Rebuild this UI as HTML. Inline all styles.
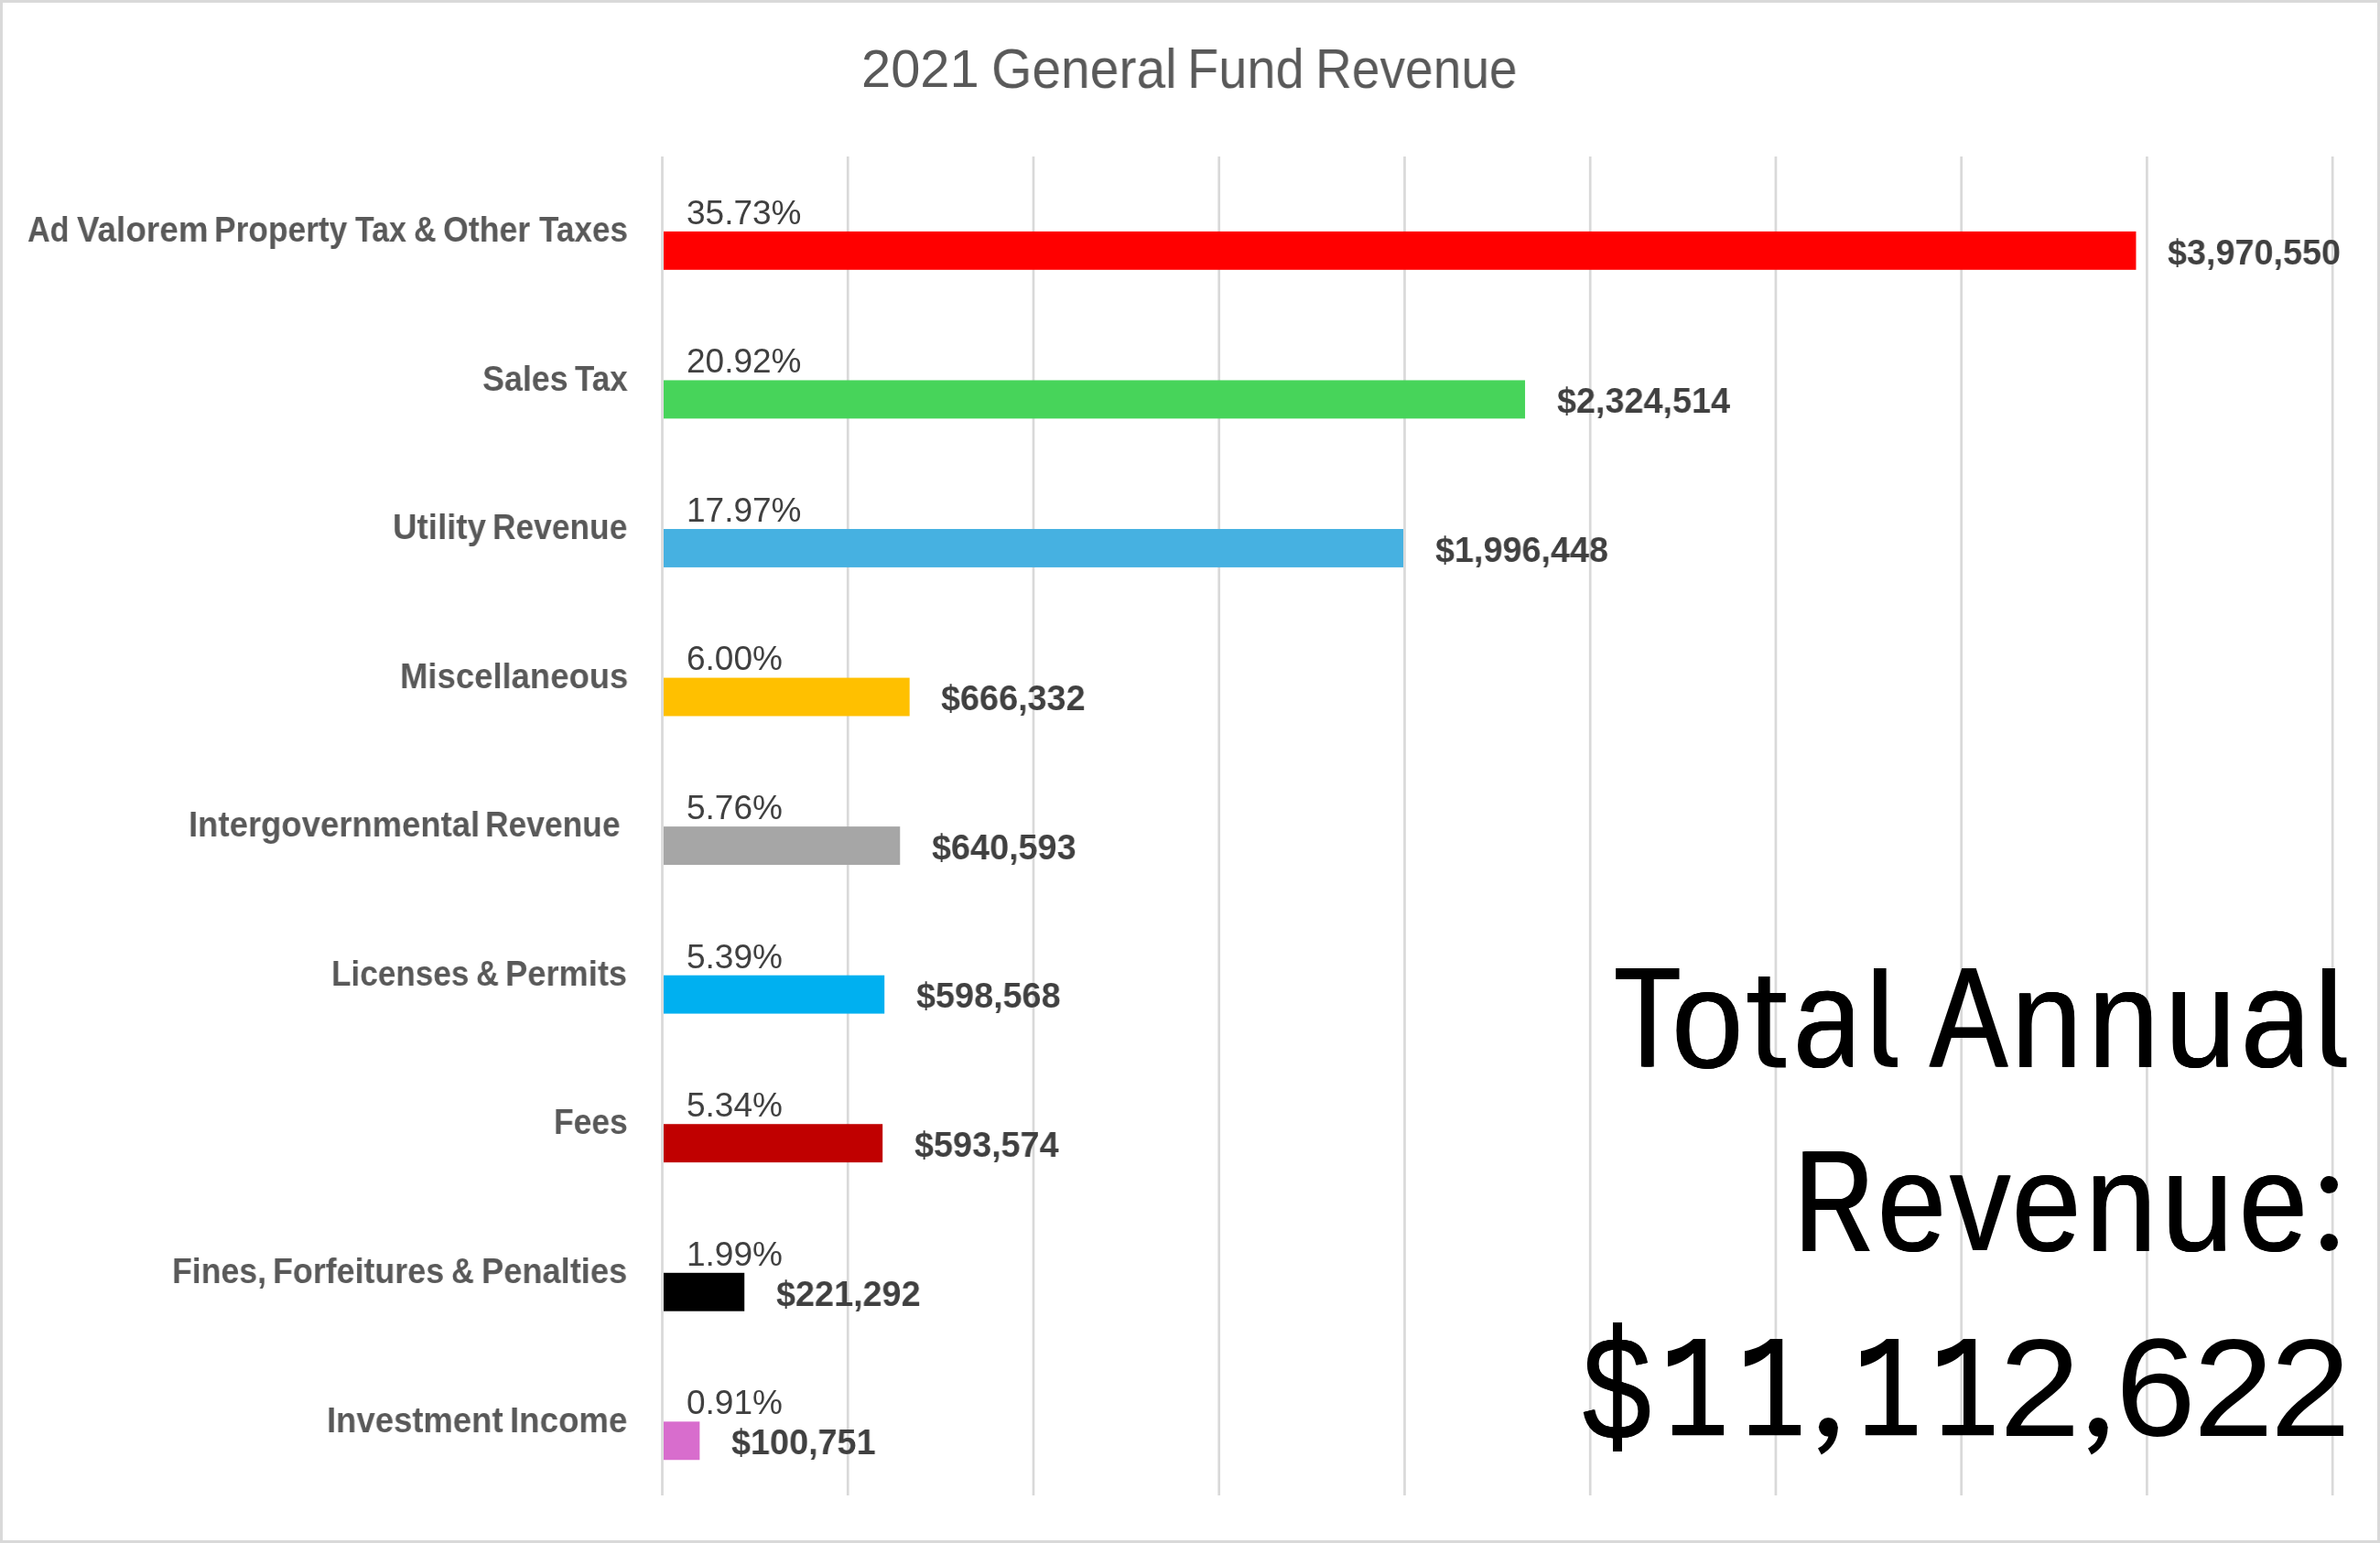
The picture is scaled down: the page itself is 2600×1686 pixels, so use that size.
<!DOCTYPE html>
<html lang="en">
<head>
<meta charset="utf-8">
<title>2021 General Fund Revenue</title>
<style>
html,body{margin:0;padding:0;background:#fff;}
body{width:2600px;height:1686px;position:relative;overflow:hidden;font-family:"Liberation Sans",sans-serif;}
#frame{position:absolute;left:0;top:0;width:2594px;height:1680px;border:3px solid #d9d9d9;}
#plot{position:absolute;left:0;top:0;}
.t{position:absolute;white-space:pre;line-height:1;margin:0;padding:0;will-change:transform;transform-origin:0 0;}
.cat{color:#595959;font-weight:bold;}
.pct{color:#404040;}
.dol{color:#404040;font-weight:bold;}
.title{color:#595959;}
.bigwrap{position:absolute;left:0;top:0;width:0;height:0;}
.gl{position:absolute;font-weight:normal;font-style:normal;font-size:156.7px;line-height:1;color:#000;white-space:pre;transform-origin:0 0;}
.dot{position:absolute;background:#000;border-radius:50%;}
.rc{position:absolute;background:#000;}
.clip{position:absolute;overflow:hidden;}
.gsvg{position:absolute;overflow:visible;}
</style>
</head>
<body>
<div id="frame"></div>
<svg id="plot" width="2600" height="1686" viewBox="0 0 2600 1686"><rect x="722.15" y="171" width="2.7" height="1463" fill="#d9d9d9"/><rect x="924.89" y="171" width="2.7" height="1463" fill="#d9d9d9"/><rect x="1127.63" y="171" width="2.7" height="1463" fill="#d9d9d9"/><rect x="1330.37" y="171" width="2.7" height="1463" fill="#d9d9d9"/><rect x="1533.11" y="171" width="2.7" height="1463" fill="#d9d9d9"/><rect x="1735.85" y="171" width="2.7" height="1463" fill="#d9d9d9"/><rect x="1938.59" y="171" width="2.7" height="1463" fill="#d9d9d9"/><rect x="2141.33" y="171" width="2.7" height="1463" fill="#d9d9d9"/><rect x="2344.07" y="171" width="2.7" height="1463" fill="#d9d9d9"/><rect x="2546.81" y="171" width="2.7" height="1463" fill="#d9d9d9"/><rect x="725.00" y="252.90" width="1608.48" height="41.9" fill="#FF0000"/><rect x="725.00" y="415.46" width="941.04" height="41.9" fill="#47D45A"/><rect x="725.00" y="578.01" width="808.02" height="41.9" fill="#46B1E1"/><rect x="725.00" y="740.57" width="268.68" height="41.9" fill="#FFC000"/><rect x="725.00" y="903.12" width="258.25" height="41.9" fill="#A6A6A6"/><rect x="725.00" y="1065.68" width="241.21" height="41.9" fill="#00B0F0"/><rect x="725.00" y="1228.23" width="239.18" height="41.9" fill="#C00000"/><rect x="725.00" y="1390.79" width="88.23" height="41.9" fill="#000000"/><rect x="725.00" y="1553.34" width="39.35" height="41.9" fill="#D86DCD"/></svg>
<div id="tw0" class="t title" style="left:940.80px;top:46.97px;font-size:57.8px;transform:scaleX(0.9997)">2021</div>
<div id="tw1" class="t title" style="left:1083.12px;top:44.60px;font-size:60.6px;transform:scaleX(0.9407)">General</div>
<div id="tw2" class="t title" style="left:1296.68px;top:44.60px;font-size:60.6px;transform:scaleX(0.9237)">Fund</div>
<div id="tw3" class="t title" style="left:1437.25px;top:44.60px;font-size:60.6px;transform:scaleX(0.9095)">Revenue</div>
<div id="c0w0" class="t cat" style="left:30.21px;top:232.06px;font-size:38.2px;transform:scaleX(0.8964)">Ad</div>
<div id="c0w1" class="t cat" style="left:83.68px;top:232.06px;font-size:38.2px;transform:scaleX(0.9655)">Valorem</div>
<div id="c0w2" class="t cat" style="left:233.86px;top:232.06px;font-size:38.2px;transform:scaleX(0.9255)">Property</div>
<div id="c0w3" class="t cat" style="left:388.15px;top:232.06px;font-size:38.2px;transform:scaleX(0.8874)">Tax</div>
<div id="c0w4" class="t cat" style="left:452.28px;top:232.06px;font-size:38.2px;transform:scaleX(0.8947)">&amp;</div>
<div id="c0w5" class="t cat" style="left:484.13px;top:232.06px;font-size:38.2px;transform:scaleX(0.9345)">Other</div>
<div id="c0w6" class="t cat" style="left:588.73px;top:232.06px;font-size:38.2px;transform:scaleX(0.9189)">Taxes</div>
<div id="pct0" class="t pct" style="left:749.90px;top:213.78px;font-size:37.0px;">35.73%</div>
<div id="dol0" class="t dol" style="left:2367.98px;top:255.72px;font-size:39.2px;transform:scaleX(0.964);">$3,970,550</div>
<div id="c1w0" class="t cat" style="left:527.00px;top:394.62px;font-size:38.2px;transform:scaleX(0.9385)">Sales</div>
<div id="c1w1" class="t cat" style="left:627.63px;top:394.62px;font-size:38.2px;transform:scaleX(0.9148)">Tax</div>
<div id="pct1" class="t pct" style="left:749.90px;top:376.33px;font-size:37.0px;">20.92%</div>
<div id="dol1" class="t dol" style="left:1700.54px;top:418.27px;font-size:39.2px;transform:scaleX(0.964);">$2,324,514</div>
<div id="c2w0" class="t cat" style="left:428.61px;top:557.17px;font-size:38.2px;transform:scaleX(0.9620)">Utility</div>
<div id="c2w1" class="t cat" style="left:538.16px;top:557.17px;font-size:38.2px;transform:scaleX(0.9255)">Revenue</div>
<div id="pct2" class="t pct" style="left:749.90px;top:538.89px;font-size:37.0px;">17.97%</div>
<div id="dol2" class="t dol" style="left:1567.52px;top:580.83px;font-size:39.2px;transform:scaleX(0.964);">$1,996,448</div>
<div id="c3w0" class="t cat" style="left:436.58px;top:719.73px;font-size:38.2px;transform:scaleX(0.9550)">Miscellaneous</div>
<div id="pct3" class="t pct" style="left:749.90px;top:701.44px;font-size:37.0px;">6.00%</div>
<div id="dol3" class="t dol" style="left:1028.18px;top:743.38px;font-size:39.2px;transform:scaleX(0.964);">$666,332</div>
<div id="c4w0" class="t cat" style="left:206.37px;top:882.28px;font-size:38.2px;transform:scaleX(0.9552)">Intergovernmental</div>
<div id="c4w1" class="t cat" style="left:530.06px;top:882.28px;font-size:38.2px;transform:scaleX(0.9268)">Revenue</div>
<div id="pct4" class="t pct" style="left:749.90px;top:864.00px;font-size:37.0px;">5.76%</div>
<div id="dol4" class="t dol" style="left:1017.75px;top:905.94px;font-size:39.2px;transform:scaleX(0.964);">$640,593</div>
<div id="c5w0" class="t cat" style="left:361.67px;top:1044.84px;font-size:38.2px;transform:scaleX(0.9199)">Licenses</div>
<div id="c5w1" class="t cat" style="left:520.46px;top:1044.84px;font-size:38.2px;transform:scaleX(0.9069)">&amp;</div>
<div id="c5w2" class="t cat" style="left:552.30px;top:1044.84px;font-size:38.2px;transform:scaleX(0.9502)">Permits</div>
<div id="pct5" class="t pct" style="left:749.90px;top:1026.55px;font-size:37.0px;">5.39%</div>
<div id="dol5" class="t dol" style="left:1000.71px;top:1068.49px;font-size:39.2px;transform:scaleX(0.964);">$598,568</div>
<div id="c6w0" class="t cat" style="left:604.65px;top:1207.39px;font-size:38.2px;transform:scaleX(0.9281)">Fees</div>
<div id="pct6" class="t pct" style="left:749.90px;top:1189.11px;font-size:37.0px;">5.34%</div>
<div id="dol6" class="t dol" style="left:998.68px;top:1231.05px;font-size:39.2px;transform:scaleX(0.964);">$593,574</div>
<div id="c7w0" class="t cat" style="left:188.14px;top:1369.95px;font-size:38.2px;transform:scaleX(0.9335)">Fines,</div>
<div id="c7w1" class="t cat" style="left:298.43px;top:1369.95px;font-size:38.2px;transform:scaleX(0.9383)">Forfeitures</div>
<div id="c7w2" class="t cat" style="left:493.07px;top:1369.95px;font-size:38.2px;transform:scaleX(0.9028)">&amp;</div>
<div id="c7w3" class="t cat" style="left:526.10px;top:1369.95px;font-size:38.2px;transform:scaleX(0.9492)">Penalties</div>
<div id="pct7" class="t pct" style="left:749.90px;top:1351.66px;font-size:37.0px;">1.99%</div>
<div id="dol7" class="t dol" style="left:847.73px;top:1393.60px;font-size:39.2px;transform:scaleX(0.964);">$221,292</div>
<div id="c8w0" class="t cat" style="left:356.57px;top:1532.50px;font-size:38.2px;transform:scaleX(0.9551)">Investment</div>
<div id="c8w1" class="t cat" style="left:557.26px;top:1532.50px;font-size:38.2px;transform:scaleX(0.9595)">Income</div>
<div id="pct8" class="t pct" style="left:749.90px;top:1514.22px;font-size:37.0px;">0.91%</div>
<div id="dol8" class="t dol" style="left:798.85px;top:1556.16px;font-size:39.2px;transform:scaleX(0.964);">$100,751</div>
<div id="big0" class="bigwrap" role="img" aria-label="Total Annual Revenue: $11,112,622">
<b id="g0" class="gl" style="left:1763.99px;top:1033.58px;transform:scale(0.7492,0.9995);text-shadow:2.07px 0 0 #000,-2.07px 0 0 #000;">T</b>
<b id="g1" class="gl" style="left:1825.75px;top:1037.55px;transform:scale(0.9012,0.9808);text-shadow:0.56px 0 0 #000,-0.56px 0 0 #000;">o</b>
<svg id="g2" class="gsvg" style="left:1909.2px;top:1066.5px" width="41.8" height="99.4" viewBox="0 0 41.8 99.4" preserveAspectRatio="none"><path d="M11.9 0H24.6V17.9H41.8V28.3H24.6V77.5C24.6 85.5 27.5 89 34.5 89H41.8V99.4H31.5C18.5 99.4 11.9 93.2 11.9 80V28.3H0V17.9H11.9Z" fill="#000"/></svg>
<div id="g3" class="clip" style="left:1960.60px;top:1077.10px;width:63.60px;height:95.90px"><b class="gl" style="left:-1.98px;top:-40.12px;transform:scale(0.8661,0.9784);text-shadow:0.86px 0 0 #000,-0.86px 0 0 #000;">a</b></div>
<svg id="g4" class="gsvg" style="left:2046.5px;top:1058.0px" width="25.9" height="107.9" viewBox="0 0 25.9 107.9" preserveAspectRatio="none"><path d="M0 0H13.6V84.5C13.6 93.5 16 97.6 22.6 97.6H25.9V107.9H19.8C5.6 107.9 0 101.2 0 86.5Z" fill="#000"/></svg>
<b id="g5" class="gl" style="left:2107.66px;top:1032.58px;transform:scale(0.8166,0.9995);text-shadow:1.33px 0 0 #000,-1.33px 0 0 #000;">A</b>
<b id="g6" class="gl" style="left:2197.21px;top:1037.09px;transform:scale(0.8929,0.9757);text-shadow:0.63px 0 0 #000,-0.63px 0 0 #000;">n</b>
<b id="g7" class="gl" style="left:2281.31px;top:1037.09px;transform:scale(0.8929,0.9757);text-shadow:0.63px 0 0 #000,-0.63px 0 0 #000;">n</b>
<b id="g8" class="gl" style="left:2365.49px;top:1037.01px;transform:scale(0.8929,0.9780);text-shadow:0.63px 0 0 #000,-0.63px 0 0 #000;">u</b>
<div id="g9" class="clip" style="left:2450.50px;top:1077.10px;width:64.40px;height:95.90px"><b class="gl" style="left:-2.56px;top:-40.12px;transform:scale(0.8807,0.9784);text-shadow:0.73px 0 0 #000,-0.73px 0 0 #000;">a</b></div>
<svg id="g10" class="gsvg" style="left:2536.7px;top:1058.0px" width="26.4" height="107.9" viewBox="0 0 25.9 107.9" preserveAspectRatio="none"><path d="M0 0H13.6V84.5C13.6 93.5 16 97.6 22.6 97.6H25.9V107.9H19.8C5.6 107.9 0 101.2 0 86.5Z" fill="#000"/></svg>
<b id="g11" class="gl" style="left:1960.98px;top:1235.48px;transform:scale(0.7584,1.0023);text-shadow:1.96px 0 0 #000,-1.96px 0 0 #000;">R</b>
<b id="g12" class="gl" style="left:2050.98px;top:1237.95px;transform:scale(0.8603,0.9808);text-shadow:0.91px 0 0 #000,-0.91px 0 0 #000;">e</b>
<b id="g13" class="gl" style="left:2129.97px;top:1236.42px;transform:scale(0.8472,0.9837);text-shadow:1.03px 0 0 #000,-1.03px 0 0 #000;">v</b>
<b id="g14" class="gl" style="left:2197.97px;top:1237.95px;transform:scale(0.8636,0.9808);text-shadow:0.88px 0 0 #000,-0.88px 0 0 #000;">e</b>
<b id="g15" class="gl" style="left:2277.77px;top:1237.77px;transform:scale(0.8986,0.9804);text-shadow:0.58px 0 0 #000,-0.58px 0 0 #000;">n</b>
<b id="g16" class="gl" style="left:2360.98px;top:1236.98px;transform:scale(0.9062,0.9828);text-shadow:0.52px 0 0 #000,-0.52px 0 0 #000;">u</b>
<b id="g17" class="gl" style="left:2445.94px;top:1237.95px;transform:scale(0.8586,0.9808);text-shadow:0.93px 0 0 #000,-0.93px 0 0 #000;">e</b>
<i id="g18" class="dot" style="left:2534.8px;top:1284.8px;width:19.4px;height:19.5px"></i>
<i id="g19" class="dot" style="left:2534.8px;top:1347.8px;width:19.4px;height:19.4px"></i>
<b id="g20" class="gl" style="left:1729.31px;top:1435.93px;transform:scale(0.8551,1.0365);text-shadow:0.96px 0 0 #000,-0.96px 0 0 #000;">$</b>
<i class="rc" style="left:1762.47px;top:1445.1px;width:9.55px;height:20px"></i>
<i class="rc" style="left:1762.47px;top:1566px;width:9.55px;height:20px"></i>
<svg id="g21" class="gsvg" style="left:1822.2px;top:1463.1px" width="61.1" height="105.2" viewBox="0 0 61.1 105.3" preserveAspectRatio="none"><path d="M28 0H41.2V94H61.1V105.3H4.9V94H28V15.5C21 22.5 11 28 0 30.2V13.2C11 11.5 21.5 6.5 28 0Z" fill="#000"/></svg>
<svg id="g22" class="gsvg" style="left:1906.3px;top:1463.1px" width="61.1" height="105.2" viewBox="0 0 61.1 105.3" preserveAspectRatio="none"><path d="M28 0H41.2V94H61.1V105.3H4.9V94H28V15.5C21 22.5 11 28 0 30.2V13.2C11 11.5 21.5 6.5 28 0Z" fill="#000"/></svg>
<svg id="g23" class="gsvg" style="left:1986.3px;top:1549.3px" width="21.8" height="40.5" viewBox="0 0 21.8 40.6" preserveAspectRatio="none"><circle cx="11.3" cy="10.4" r="10.4" fill="#000"/><path d="M21.7 10.4C21.9 24.5 14.5 35 3.8 40.6L0 33.7C6.2 30.3 10.6 25.6 11.6 19.5Z" fill="#000"/></svg>
<svg id="g24" class="gsvg" style="left:2033.2px;top:1463.1px" width="60.9" height="105.2" viewBox="0 0 61.1 105.3" preserveAspectRatio="none"><path d="M28 0H41.2V94H61.1V105.3H4.9V94H28V15.5C21 22.5 11 28 0 30.2V13.2C11 11.5 21.5 6.5 28 0Z" fill="#000"/></svg>
<svg id="g25" class="gsvg" style="left:2117.2px;top:1463.1px" width="61.0" height="105.2" viewBox="0 0 61.1 105.3" preserveAspectRatio="none"><path d="M28 0H41.2V94H61.1V105.3H4.9V94H28V15.5C21 22.5 11 28 0 30.2V13.2C11 11.5 21.5 6.5 28 0Z" fill="#000"/></svg>
<b id="g26" class="gl" style="left:2183.90px;top:1440.65px;transform:scale(1.0175,0.9699);">2</b>
<svg id="g27" class="gsvg" style="left:2281.1px;top:1549.3px" width="21.6" height="40.5" viewBox="0 0 21.8 40.6" preserveAspectRatio="none"><circle cx="11.3" cy="10.4" r="10.4" fill="#000"/><path d="M21.7 10.4C21.9 24.5 14.5 35 3.8 40.6L0 33.7C6.2 30.3 10.6 25.6 11.6 19.5Z" fill="#000"/></svg>
<b id="g28" class="gl" style="left:2311.41px;top:1440.84px;transform:scale(1.0090,0.9703);">6</b>
<b id="g29" class="gl" style="left:2395.74px;top:1440.65px;transform:scale(1.0077,0.9699);">2</b>
<b id="g30" class="gl" style="left:2479.75px;top:1440.65px;transform:scale(1.0091,0.9699);">2</b>
</div>
</body>
</html>
